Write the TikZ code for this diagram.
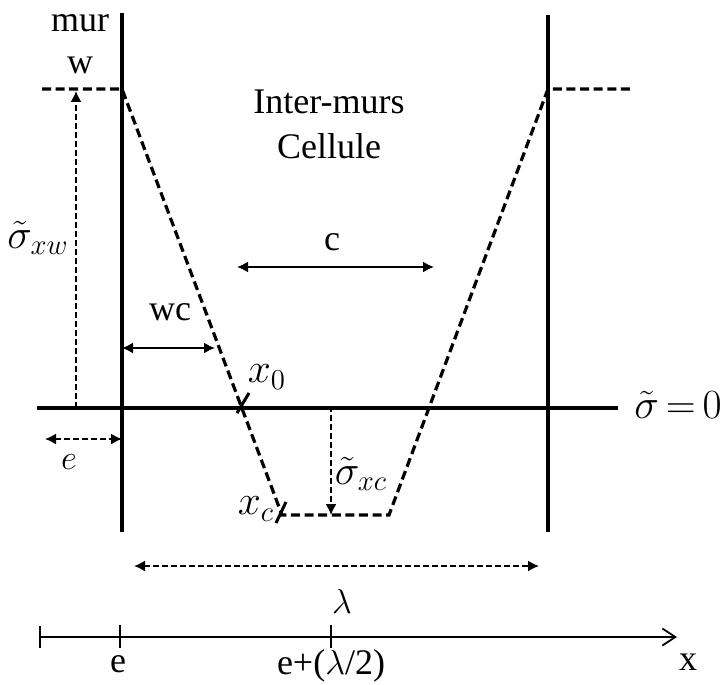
\documentclass[tikz,border=0pt]{standalone}
\usepackage{fontspec}
\setmainfont{Liberation Serif}
\usepackage{tikz}
\usetikzlibrary{arrows.meta,calc,positioning}

\begin{document}
\begin{tikzpicture}[
    x=0.5pt,y=-0.5pt,
    >={Latex[length=5.5pt,width=5.5pt]},
    wall/.style={line width=1.7pt},
    profile/.style={line width=1.6pt,dash pattern=on 4.5pt off 2.3pt},
    cote/.style={line width=0.8pt,dash pattern=on 3pt off 1.5pt},
    tick/.style={line width=1.5pt},
    txt/.style={font=\fontsize{18}{21}\selectfont,inner sep=0pt},
    sig/.style={font=\fontsize{20}{24}\selectfont,inner sep=0pt}
    ]
    \useasboundingbox (0,0) rectangle (726,684);

    % walls and zero line
    \coordinate (wlTop) at (122,13);
    \coordinate (wlBot) at (122,532);
    \coordinate (wrTop) at (548,15);
    \coordinate (wrBot) at (548,532);
    \coordinate (axL) at (37,408);
    \coordinate (axR) at (618,408);
    \draw[wall] (wlTop) -- (wlBot);
    \draw[wall] (wrTop) -- (wrBot);
    \draw[wall] (axL) -- (axR);

    % stress profile
    \coordinate (pA) at (42,89);
    \coordinate (pB) at (122,89);
    \coordinate (pC) at (282,515);
    \coordinate (pD) at (389,515);
    \coordinate (pE) at (548,89);
    \coordinate (pF) at (630,89);
    \draw[profile] (pA) -- (pB) -- (pC) -- (pD) -- (pE) -- (pF);

    \coordinate (x0) at (243,403);
    \coordinate (xc) at (281,512);
    \draw[tick] ($(x0)+(6,-10)$) -- ($(x0)+(-6,10)$);
    \draw[tick] ($(xc)+(5,-10)$) -- ($(xc)+(-5,11)$);

    % dimensions
    \coordinate (swBot) at (76,408);
    \coordinate (swTop) at (76,91);
    \draw[cote,->] (swBot) -- (swTop);
    \coordinate (eL) at (45,439);
    \coordinate (eR) at (122,439);
    \draw[cote,<->] (eL) -- (eR);
    \coordinate (wcL) at (122,348);
    \coordinate (wcR) at (215,348);
    \draw[line width=0.9pt,<->] (wcL) -- (wcR);
    \coordinate (cL) at (237,267);
    \coordinate (cR) at (434,267);
    \draw[line width=0.9pt,<->] (cL) -- (cR);
    \coordinate (scTop) at (331,406);
    \coordinate (scBot) at (331,515);
    \draw[cote,->] (scTop) -- (scBot);
    \coordinate (lamL) at (134,566);
    \coordinate (lamR) at (539,566);
    \draw[cote,<->] (lamL) -- (lamR);

    % x axis
    \coordinate (xaL) at (39,637);
    \coordinate (xaR) at (677,637);
    \coordinate (te) at (120,637);
    \coordinate (tm) at (331,637);
    \draw[line width=0.9pt,{Bar[width=11pt]}-{Straight Barb[length=6.5pt,width=8.5pt]}] (xaL) -- (xaR);
    \draw[line width=0.9pt] ($(te)+(0,-12)$) -- ($(te)+(0,11)$);
    \draw[line width=0.9pt] ($(tm)+(0,-12)$) -- ($(tm)+(0,11)$);

    % labels
    \node[txt] (mur) at (80,23) {mur};
    \node[txt] (w) at (80,65) {w};
    \node[txt] (inter) at (329,102) {Inter-murs};
    \node[txt] (cell) at (329,146) {Cellule};
    \node[txt] (c) at (332,242) {c};
    \node[txt] (wc) at (170,312) {wc};
    \node[sig] (sxw) at (38,238) {$\tilde{\sigma}_{xw}$};
    \node[sig] (lx0) at (267,377) {$x_0$};
    \node[sig] (lxc) at (256,509) {$x_c$};
    \node[sig] (sxc) at (361,474) {$\tilde{\sigma}_{xc}$};
    \node[sig,anchor=east] (szero) at (722,405) {$\tilde{\sigma}\,{=}\,0$};
    \node[txt] (le) at (69,462) {$e$};
    \node[txt] (lam) at (342,601) {$\lambda$};
    \node[txt] (ae) at (118,664) {e};
    \node[txt] (am) at (331,666) {e+($\lambda$/2)};
    \node[txt] (ax) at (688,662) {x};
\end{tikzpicture}
\end{document}
